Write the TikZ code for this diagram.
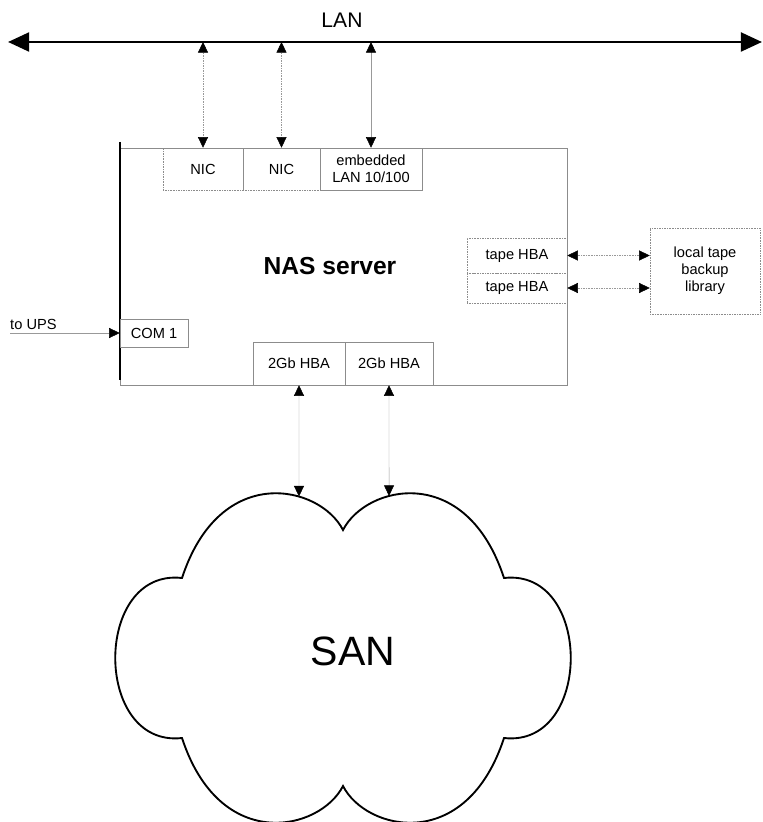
\documentclass[tikz,border=0pt]{standalone}
\usepackage{fontspec}
\setmainfont{Liberation Sans}
\usetikzlibrary{arrows.meta, intersections}
\newcommand{\portfont}{\fontsize{12.5}{14.5}\selectfont}

\begin{document}
\begin{tikzpicture}[x=0.03cm, y=-0.03cm,
	port/.style={draw=black!45, rectangle, inner sep=0pt, align=center, font=\portfont},
	dport/.style={port, densely dotted},
	link/.style={draw=black!40, arrows={Triangle[length=9pt,width=8.5pt,black]-Triangle[length=9pt,width=8.5pt,black]}},
	]
	\useasboundingbox (0,0) rectangle (762,822);
	\coordinate (lanL) at (8,42);
	\coordinate (lanR) at (762,42);
	\coordinate (ups) at (10,333);
	\draw[line width=2.5pt, arrows={Triangle[length=18pt,width=16pt]-Triangle[length=18pt,width=16pt]}] (lanL) -- (lanR);
	\node[font=\fontsize{18}{20}\selectfont] (lan) at (342,20) {LAN};
	\node[draw=black!45, minimum width=13.41cm, minimum height=7.11cm, inner sep=0pt] (server) at (343.5,266.5) {};
	\draw[line width=1.5pt] ([yshift=5pt]server.north west) -- ([yshift=4.3pt]server.south west);
	\node[font=\bfseries\fontsize{21}{24}\selectfont] (nas) at (330,266) {NAS server};
	\node[dport, minimum width=2.4cm, minimum height=1.26cm] (nic1) at (203,169) {NIC};
	\node[dport, minimum width=2.31cm, minimum height=1.26cm] (nic2) at (281.5,169) {NIC};
	\node[port, minimum width=3.06cm, minimum height=1.26cm] (emb) at (371,169) {embedded\\LAN 10/100};
	\node[dport, minimum width=3cm, minimum height=1.05cm] (tape1) at (517,255.5) {tape HBA};
	\node[dport, minimum width=3cm, minimum height=0.9cm] (tape2) at (517,288) {tape HBA};
	\node[dport, minimum width=3.3cm, minimum height=2.58cm] (lib) at (705,271) {local tape\\backup\\library};
	\node[port, minimum width=2.04cm, minimum height=0.84cm] (com) at (154,333) {COM 1};
	\node[port, minimum width=2.76cm, minimum height=1.29cm] (hba1) at (299,363.5) {2Gb HBA};
	\node[port, minimum width=2.64cm, minimum height=1.29cm] (hba2) at (389,363.5) {2Gb HBA};
	\node[anchor=base west, inner sep=0pt, font=\portfont] (upslabel) at (10,329) {to UPS};
	\draw[link, densely dotted] (nic1.north) -- (nic1.north |- lanL);
	\draw[link, densely dotted] (nic2.north) -- (nic2.north |- lanL);
	\draw[link] (emb.north) -- (emb.north |- lanL);
	\draw[link, densely dotted] (tape1.east) -- (tape1.east -| lib.west);
	\draw[link, densely dotted] (tape2.east) -- (tape2.east -| lib.west);
	\draw[draw=black!40, -{Triangle[length=9pt,width=8.5pt,black]}] (ups) -- (com.west);
	\draw[line width=1.6pt, name path=san] (343,530)
		.. controls (320,485) and (220,462) .. (182,578)
		.. controls (93,568) and (93,748) .. (182,738)
		.. controls (220,854) and (320,831) .. (343,786)
		.. controls (366,831) and (466,854) .. (504,738)
		.. controls (593,748) and (593,568) .. (504,578)
		.. controls (466,462) and (366,485) .. (343,530) -- cycle;
	\node[font=\fontsize{35}{40}\selectfont] (sanlabel) at (353,651) {SAN};
	\path[name path=down1] (hba1.south) -- ++(0,200);
	\path[name path=down2] (hba2.south) -- ++(0,200);
	\draw[link, name intersections={of=san and down1,by=s1}] (hba1.south) -- (s1);
	\draw[link, name intersections={of=san and down2,by=s2}] (hba2.south) -- (s2);
\end{tikzpicture}
\end{document}
